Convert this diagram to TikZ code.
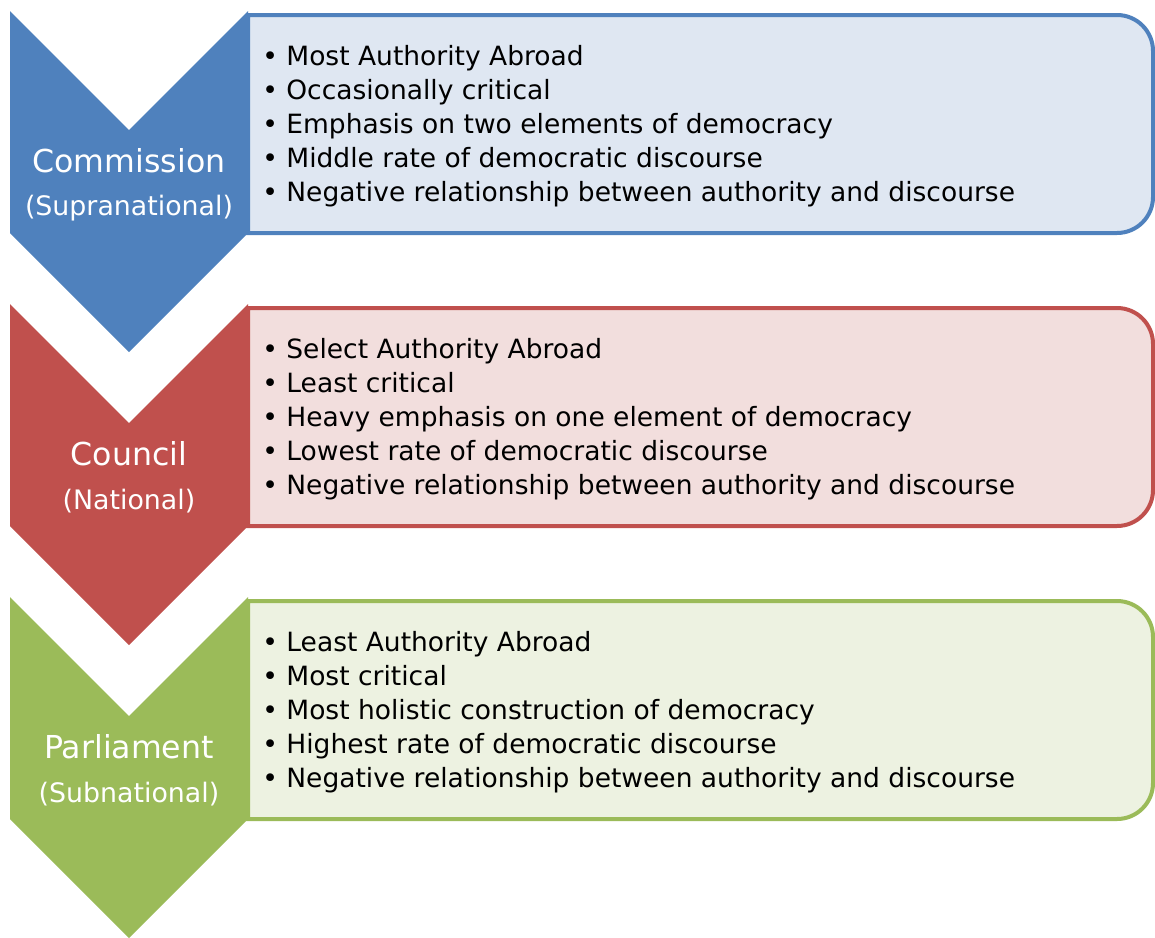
\documentclass[tikz,border=0pt]{standalone}
\usepackage{fontspec}
\setmainfont{DejaVu Sans}
\definecolor{comblue}{HTML}{4F81BD}
\definecolor{comfill}{HTML}{DFE7F2}
\definecolor{counred}{HTML}{C0504D}
\definecolor{counfill}{HTML}{F2DEDD}
\definecolor{pargreen}{HTML}{9BBB59}
\definecolor{parfill}{HTML}{EDF2E1}
\newcommand{\bul}{\makebox[12pt][l]{\textbullet}}
\begin{document}
\begin{tikzpicture}[x=0.5pt,y=-0.5pt,
    boxline/.style={line width=2pt},
    headtext/.style={text=white, inner sep=0pt, font=\fontsize{15.8}{19}\selectfont},
    subtext/.style={text=white, inner sep=0pt, font=\fontsize{13.4}{16}\selectfont},
    infotext/.style={anchor=west, inner sep=0pt, align=left, font=\fontsize{13.25}{17}\selectfont}]

        \useasboundingbox (0,0) rectangle (1155,937);

        % Commission
        \begin{scope}
          \draw[boxline, draw=comblue, fill=comfill] (248,15) [rounded corners=18pt] -- (1153,15) -- (1153,233) [sharp corners] -- (248,233) -- cycle;
          \fill[comblue] (10,11) -- (129,130) -- (248,11) -- (248,233) -- (129,352) -- (10,233) -- cycle;
          \node[headtext] (commission) at (129,161) {Commission};
          \node[subtext]  (supranational) at (129,208) {(Supranational)};
          \node[infotext] (commissionlist) at (262,126) {\bul Most Authority Abroad\\
            \bul Occasionally critical\\
            \bul Emphasis on two elements of democracy\\
            \bul Middle rate of democratic discourse\\
            \bul Negative relationship between authority and discourse};
        \end{scope}

        % Council
        \begin{scope}[shift={(0,293)}]
          \draw[boxline, draw=counred, fill=counfill] (248,15) [rounded corners=18pt] -- (1153,15) -- (1153,233) [sharp corners] -- (248,233) -- cycle;
          \fill[counred] (10,11) -- (129,130) -- (248,11) -- (248,233) -- (129,352) -- (10,233) -- cycle;
          \node[headtext] (council) at (129,161) {Council};
          \node[subtext]  (national) at (129,208) {(National)};
          \node[infotext] (councillist) at (262,126) {\bul Select Authority Abroad\\
            \bul Least critical\\
            \bul Heavy emphasis on one element of democracy\\
            \bul Lowest rate of democratic discourse\\
            \bul Negative relationship between authority and discourse};
        \end{scope}

        % Parliament
        \begin{scope}[shift={(0,586)}]
          \draw[boxline, draw=pargreen, fill=parfill] (248,15) [rounded corners=18pt] -- (1153,15) -- (1153,233) [sharp corners] -- (248,233) -- cycle;
          \fill[pargreen] (10,11) -- (129,130) -- (248,11) -- (248,233) -- (129,352) -- (10,233) -- cycle;
          \node[headtext] (parliament) at (129,161) {Parliament};
          \node[subtext]  (subnational) at (129,208) {(Subnational)};
          \node[infotext] (parliamentlist) at (262,126) {\bul Least Authority Abroad\\
            \bul Most critical\\
            \bul Most holistic construction of democracy\\
            \bul Highest rate of democratic discourse\\
            \bul Negative relationship between authority and discourse};
        \end{scope}

      \end{tikzpicture}
\end{document}
